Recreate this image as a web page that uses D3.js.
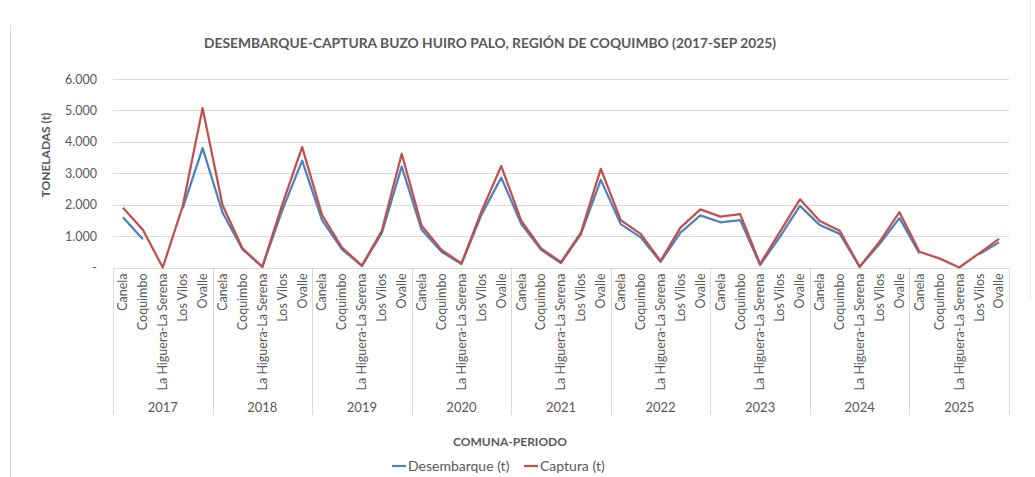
<!DOCTYPE html>
<html><head><meta charset="utf-8">
<script src="https://cdn.jsdelivr.net/npm/d3@7"></script>
<style>
body{margin:0;background:#fff;}
text{font-family:Lato,"Open Sans",sans-serif;}
</style></head>
<body><svg id="c" width="1035" height="477"></svg>
<script>
const years = ["2017","2018","2019","2020","2021","2022","2023","2024","2025"];
const comunas = ["Canela","Coquimbo","La Higuera-La Serena","Los Vilos","Ovalle"];
const desembarque = [
 1600, 900, null, 1880, 3800,
 1750, 580, 20, 1820, 3400,
 1510, 580, 50, 1090, 3210,
 1200, 500, 110, 1670, 2860,
 1390, 560, 140, 1060, 2790,
 1380, 960, 180, 1110, 1660,
 1440, 1510, 80, 980, 1960,
 1350, 1070, 20, 750, 1570,
 450, null, null, 420, 800];
const captura = [
 1900, 1200, 0, 1950, 5070,
 1990, 610, 20, 2000, 3830,
 1670, 630, 60, 1170, 3620,
 1330, 560, 130, 1780, 3230,
 1490, 610, 170, 1110, 3140,
 1510, 1070, 210, 1270, 1850,
 1620, 1700, 110, 1140, 2170,
 1480, 1170, 25, 820, 1760,
 500, 290, 0, 450, 910];
const yTicks = [0,1000,2000,3000,4000,5000,6000];
const yTickLabels = ["-","1.000","2.000","3.000","4.000","5.000","6.000"];
const seriesNames = ["Desembarque (t)","Captura (t)"];
const colors = ["#4F81BD","#C0504D"];

const svg = d3.select("#c");
const L = 113, R = 1009, T = 79, B = 267.5;
const idx = d3.range(years.length * comunas.length);
const x = d3.scaleBand().domain(idx).range([L, R]);
const y = d3.scaleLinear().domain([0, 6000]).range([B, T]);
const gray = "#595959";

// frame lines
svg.append("line").attr("x1",10.5).attr("x2",10.5).attr("y1",25).attr("y2",477).attr("stroke","#d9d9d9");
svg.append("line").attr("x1",1030.5).attr("x2",1030.5).attr("y1",0).attr("y2",300).attr("stroke","#e8e8e8");

// title
svg.append("text").attr("x",490).attr("y",48).attr("text-anchor","middle")
  .attr("font-size",14).attr("font-weight","bold").attr("fill",gray)
  .attr("textLength",572).attr("lengthAdjust","spacingAndGlyphs")
  .text("DESEMBARQUE-CAPTURA BUZO HUIRO PALO, REGIÓN DE COQUIMBO (2017-SEP 2025)");

// gridlines
svg.append("g").selectAll("line").data(yTicks.slice(1)).join("line")
  .attr("x1",L).attr("x2",R).attr("y1",d=>Math.round(y(d))+0.5).attr("y2",d=>Math.round(y(d))+0.5)
  .attr("stroke","#d9d9d9").attr("stroke-width",1);

// y axis labels
const yAxis = d3.axisLeft(y).tickValues(yTicks).tickSize(0).tickPadding(0)
  .tickFormat((d,i)=>yTickLabels[i]);
const gy = svg.append("g").attr("transform",`translate(${L-16},0)`).call(yAxis);
gy.select(".domain").remove();
gy.selectAll("text").attr("font-size",12.5).attr("fill",gray).attr("font-family","Lato,sans-serif");

svg.append("text").attr("transform",`translate(50,155) rotate(-90)`).attr("text-anchor","middle")
  .attr("font-size",12).attr("font-weight","bold").attr("fill",gray).text("TONELADAS (t)");

// x axis baseline
svg.append("line").attr("x1",L).attr("x2",R).attr("y1",Math.round(B)+0.5).attr("y2",Math.round(B)+0.5).attr("stroke","#d9d9d9");
// year separators
const bounds = d3.range(years.length+1).map(i=> i===years.length ? R : x(i*comunas.length));
svg.append("g").selectAll("line").data(bounds).join("line")
  .attr("x1",d=>Math.round(d)+0.5).attr("x2",d=>Math.round(d)+0.5)
  .attr("y1",B).attr("y2",415).attr("stroke","#d9d9d9");

// category labels
const xAxis = d3.axisBottom(x).tickSize(0).tickFormat(i=>comunas[i % comunas.length]);
const gx = svg.append("g").attr("transform",`translate(0,${B})`).call(xAxis);
gx.select(".domain").remove();
gx.selectAll("text").attr("font-size",12.5).attr("fill",gray).attr("font-family","Lato,sans-serif")
  .attr("transform","rotate(-90)").attr("text-anchor","end").attr("dy","0.35em").attr("x",-6).attr("y",0);

// year labels
svg.append("g").selectAll("text").data(years).join("text")
  .attr("x",(d,i)=>(bounds[i]+bounds[i+1])/2).attr("y",412).attr("text-anchor","middle")
  .attr("font-size",13).attr("fill",gray).text(d=>d);

svg.append("text").attr("x",510).attr("y",446).attr("text-anchor","middle")
  .attr("font-size",12).attr("font-weight","bold").attr("fill",gray).text("COMUNA-PERIODO");

// lines
const line = d3.line().defined(d=>d.v!==null).x(d=>x(d.i)+x.bandwidth()/2).y(d=>y(d.v));
[desembarque, captura].forEach((s,k)=>{
  svg.append("path").datum(s.map((v,i)=>({i,v}))).attr("d",line)
    .attr("fill","none").attr("stroke",colors[k]).attr("stroke-width",2.25).attr("stroke-linejoin","round");
});

// legend
const legX = [392, 524];
const lg = svg.append("g");
seriesNames.forEach((n,k)=>{
  lg.append("line").attr("x1",legX[k]).attr("x2",legX[k]+14).attr("y1",466).attr("y2",466)
    .attr("stroke",colors[k]).attr("stroke-width",2.25);
  lg.append("text").attr("x",legX[k]+16).attr("y",471).attr("font-size",14).attr("fill",gray).text(n);
});
</script></body></html>
